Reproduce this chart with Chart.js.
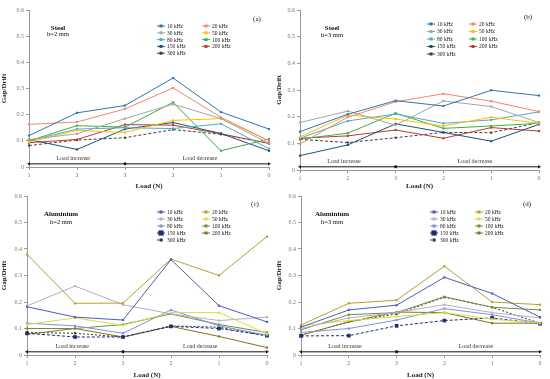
<!DOCTYPE html>
<html>
<head>
<meta charset="utf-8">
<script src="https://cdn.jsdelivr.net/npm/chart.js@4/dist/chart.umd.min.js"></script>
<style>
  html, body { margin: 0; padding: 0; background: #fff; width: 550px; height: 379px; overflow: hidden; }
  canvas { position: absolute; }
</style>
</head>
<body>
<canvas id="ca" width="275" height="190" style="left:0;top:0"></canvas>
<canvas id="cb" width="275" height="190" style="left:275px;top:0"></canvas>
<canvas id="cc" width="275" height="190" style="left:0;top:189px"></canvas>
<canvas id="cd" width="275" height="190" style="left:275px;top:189px"></canvas>
<script>
// ---------- DATA ----------
const LOAD_LABELS = ['1', '2', '3', '2', '1', '0'];
const SERIES_NAMES = ['10 kHz', '20 kHz', '30 kHz', '50 kHz', '80 kHz', '100 kHz', '150 kHz', '200 kHz', '300 kHz'];
const LOAD_LINE_VALUE = 0.012;
const Y_TICKS = [0, 0.1, 0.2, 0.3, 0.4, 0.5, 0.6];

// rows follow SERIES_NAMES order
const steel2mm = [
  [0.120, 0.207, 0.235, 0.340, 0.210, 0.145],
  [0.163, 0.172, 0.222, 0.302, 0.190, 0.100],
  [0.105, 0.127, 0.185, 0.240, 0.185, 0.090],
  [0.095, 0.140, 0.132, 0.178, 0.185, 0.100],
  [0.100, 0.145, 0.150, 0.147, 0.165, 0.070],
  [0.100, 0.158, 0.152, 0.247, 0.062, 0.107],
  [0.105, 0.067, 0.145, 0.170, 0.128, 0.062],
  [0.093, 0.105, 0.162, 0.160, 0.127, 0.090],
  [0.082, 0.103, 0.112, 0.143, 0.125, 0.090]
];
const steel3mm = [
  [0.144, 0.209, 0.260, 0.240, 0.299, 0.279],
  [0.098, 0.198, 0.256, 0.286, 0.258, 0.219],
  [0.178, 0.221, 0.168, 0.259, 0.238, 0.178],
  [0.124, 0.206, 0.191, 0.165, 0.198, 0.175],
  [0.119, 0.184, 0.210, 0.175, 0.188, 0.218],
  [0.116, 0.138, 0.213, 0.156, 0.165, 0.175],
  [0.054, 0.094, 0.173, 0.141, 0.108, 0.171],
  [0.119, 0.128, 0.150, 0.119, 0.159, 0.146],
  [0.115, 0.103, 0.121, 0.141, 0.140, 0.178]
];
const alu2mm = [
  [0.182, 0.143, 0.132, 0.360, 0.186, 0.125],
  [0.380, 0.195, 0.196, 0.362, 0.300, 0.447],
  [0.185, 0.260, 0.190, 0.155, 0.130, 0.143],
  [0.115, 0.140, 0.112, 0.160, 0.160, 0.080],
  [0.120, 0.110, 0.082, 0.170, 0.110, 0.075],
  [0.100, 0.100, 0.115, 0.155, 0.115, 0.085],
  [0.082, 0.068, 0.068, 0.108, 0.100, 0.073],
  [0.078, 0.100, 0.068, 0.108, 0.070, 0.028],
  [0.085, 0.082, 0.068, 0.110, 0.105, 0.072]
];
const alu3mm = [
  [0.105, 0.170, 0.188, 0.293, 0.232, 0.143],
  [0.113, 0.195, 0.207, 0.335, 0.200, 0.190],
  [0.100, 0.140, 0.160, 0.190, 0.160, 0.140],
  [0.110, 0.130, 0.145, 0.160, 0.135, 0.120],
  [0.085, 0.100, 0.132, 0.175, 0.152, 0.120],
  [0.095, 0.152, 0.160, 0.220, 0.180, 0.170],
  [0.072, 0.073, 0.110, 0.130, 0.140, 0.118],
  [0.075, 0.125, 0.162, 0.160, 0.120, 0.120],
  [0.075, 0.125, 0.155, 0.218, 0.180, 0.120]
];

// ---------- STYLES ----------
const steelStyles = [
  { c: '#2e75b6' }, { c: '#f4866a' }, { c: '#a5a5a5' }, { c: '#ffc000' },
  { c: '#4bacc6' }, { c: '#3cae4a' }, { c: '#1f4e79' }, { c: '#c0392b' },
  { c: '#404040', dash: [3, 2] }
];
const aluStyles = [
  { c: '#4a5bc4' }, { c: '#b8a030' }, { c: '#b0b0c8' }, { c: '#d6e040' },
  { c: '#7d92e0' }, { c: '#6d8f3a' }, { c: '#1c2b7a', dash: [3, 2], r: 2.6 }, { c: '#8a7020' },
  { c: '#333344', dash: [2, 2] }
];

const SERIF = "'Liberation Serif', 'DejaVu Serif', serif";

function buildDatasets(rows, styles) {
  const ds = rows.map((vals, i) => {
    const s = styles[i];
    return {
      label: SERIES_NAMES[i],
      data: vals,
      borderColor: s.c,
      backgroundColor: s.c,
      borderWidth: 1,
      borderDash: s.dash || [],
      pointStyle: 'rect',
      pointRadius: s.r || 1.5,
      pointBorderWidth: 0,
      tension: 0,
      _legend: true
    };
  });
  const arr = LOAD_LABELS.map(() => LOAD_LINE_VALUE);
  ds.push({
    label: 'inc', data: arr.map((v, i) => i <= 2 ? v : null),
    borderColor: '#111', backgroundColor: '#111', borderWidth: 1,
    pointStyle: 'triangle', pointRadius: [2, 0, 2, 0, 0, 0],
    rotation: [-90, 0, 90, 0, 0, 0], pointBorderWidth: 0
  });
  ds.push({
    label: 'dec', data: arr.map((v, i) => i >= 2 ? v : null),
    borderColor: '#111', backgroundColor: '#111', borderWidth: 1,
    pointStyle: 'triangle', pointRadius: [0, 0, 2, 0, 0, 2],
    rotation: [0, 0, -90, 0, 0, 90], pointBorderWidth: 0
  });
  return ds;
}

const overlayPlugin = {
  id: 'overlay',
  afterDatasetsDraw(chart) {
    const o = chart.options.plugins.overlay;
    const ctx = chart.ctx;
    const xs = chart.scales.x, ys = chart.scales.y;
    ctx.save();
    // load texts
    ctx.fillStyle = '#333';
    ctx.font = '6px ' + SERIF;
    ctx.textAlign = 'center';
    ctx.textBaseline = 'bottom';
    const yLoad = ys.getPixelForValue(LOAD_LINE_VALUE) - 2;
    const px = v => xs.getPixelForValue(0) + (xs.getPixelForValue(1) - xs.getPixelForValue(0)) * v;
    ctx.fillText('Load increase', px(o.incPos), yLoad);
    ctx.fillText('Load decrease', px(o.decPos), yLoad);
    // material text
    ctx.fillStyle = '#111';
    ctx.textBaseline = 'middle';
    ctx.font = 'bold 7px ' + SERIF;
    ctx.fillText(o.mat, o.matX, o.matY);
    ctx.font = '6.5px ' + SERIF;
    ctx.fillText(o.h, o.matX, o.hY);
    // panel label
    ctx.font = '7px ' + SERIF;
    ctx.fillText(o.tag, o.tagX, o.tagY);
    // legend
    ctx.font = '5.5px ' + SERIF;
    ctx.textAlign = 'left';
    const sets = chart.data.datasets.filter(d => d._legend);
    sets.forEach((d, i) => {
      const col = i % 2, row = Math.floor(i / 2);
      const x0 = o.legX[col], y = o.legY0 + row * o.legDy;
      ctx.strokeStyle = d.borderColor;
      ctx.lineWidth = 1;
      ctx.setLineDash(d.borderDash || []);
      ctx.beginPath();
      ctx.moveTo(x0, y);
      ctx.lineTo(x0 + 8, y);
      ctx.stroke();
      ctx.setLineDash([]);
      ctx.fillStyle = d.borderColor;
      const r = d.pointRadius;
      ctx.fillRect(x0 + 4 - r, y - r, 2 * r, 2 * r);
      ctx.fillStyle = '#222';
      ctx.fillText(d.label, x0 + 10, y + 0.5);
    });
    ctx.restore();
  }
};

function makeChart(id, rows, styles, L) {
  new Chart(document.getElementById(id), {
    type: 'line',
    data: { labels: LOAD_LABELS, datasets: buildDatasets(rows, styles) },
    options: {
      responsive: false,
      animation: false,
      events: [],
      layout: { padding: { left: 0, right: L.padR, top: L.padT, bottom: 0 } },
      plugins: {
        legend: { display: false },
        tooltip: { enabled: false },
        overlay: L
      },
      scales: {
        x: {
          type: 'category',
          offset: false,
          grid: { display: true, drawOnChartArea: false, tickLength: 3, color: '#999' },
          border: { display: true, color: '#999', width: 1 },
          ticks: { font: { family: SERIF, size: 6 }, color: '#777', padding: 2, maxRotation: 0, autoSkip: false },
          title: { display: true, text: 'Load (N)', font: { family: SERIF, size: 7, weight: 'bold' }, color: '#222', padding: { top: 1, bottom: 0 } },
          afterFit: s => { s.height = L.xH; }
        },
        y: {
          min: 0, max: 0.6,
          afterBuildTicks: s => { s.ticks = Y_TICKS.map(v => ({ value: v })); },
          grid: { display: true, drawOnChartArea: false, tickLength: 3, color: '#999' },
          border: { display: true, color: '#999', width: 1 },
          ticks: { font: { family: SERIF, size: 6 }, color: '#777', padding: 2,
                   callback: v => String(Number(v.toFixed(1))) },
          title: { display: true, text: 'Gap/Drift', font: { family: SERIF, size: 7, weight: 'bold' }, color: '#222', padding: { top: 0, bottom: 1 } },
          afterFit: s => { s.width = L.yW; }
        }
      }
    },
    plugins: [overlayPlugin]
  });
}

makeChart('ca', steel2mm, steelStyles, {
  padR: 6, padT: 10, xH: 23, yW: 29,
  incPos: 0.92, decPos: 3.56,
  mat: 'Steel', h: 'h=2 mm', matX: 58, matY: 28, hY: 34,
  tag: '(a)', tagX: 257, tagY: 19,
  legX: [157, 202], legY0: 26, legDy: 6.8
});
makeChart('cb', steel3mm, steelStyles, {
  padR: 11, padT: 10, xH: 20, yW: 25,
  incPos: 0.92, decPos: 3.66,
  mat: 'Steel', h: 'h=3 mm', matX: 57, matY: 28, hY: 35,
  tag: '(b)', tagX: 253, tagY: 17,
  legX: [152, 194], legY0: 24, legDy: 7.5
});
makeChart('cc', alu2mm, aluStyles, {
  padR: 8, padT: 7, xH: 24, yW: 27,
  incPos: 0.94, decPos: 3.61,
  mat: 'Aluminium', h: 'h=2 mm', matX: 61, matY: 25, hY: 33,
  tag: '(c)', tagX: 255, tagY: 15,
  legX: [157, 202], legY0: 23, legDy: 7
});
makeChart('cd', alu3mm, aluStyles, {
  padR: 10, padT: 7, xH: 24, yW: 26,
  incPos: 0.92, decPos: 3.66,
  mat: 'Aluminium', h: 'h=3 mm', matX: 57, matY: 25, hY: 33,
  tag: '(d)', tagX: 252, tagY: 15,
  legX: [155, 200], legY0: 23, legDy: 7
});
</script>
</body>
</html>
